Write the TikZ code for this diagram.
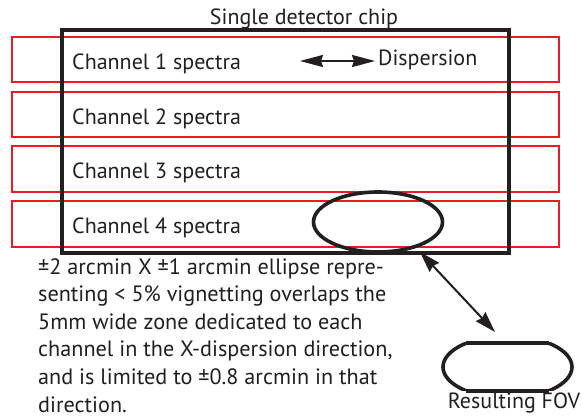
\documentclass[tikz,border=0pt]{standalone}
\usepackage{fontspec}
\setmainfont{PT Sans}
\usetikzlibrary{arrows.meta,shapes.geometric}
\definecolor{chipred}{RGB}{237,28,36}
\definecolor{ink}{RGB}{35,31,32}
\tikzset{
  band/.style={draw=chipred, line width=2.8pt},
  chip/.style={draw=ink, line width=4.2pt},
  lbl/.style={inner sep=0pt, anchor=base west, text=ink, font=\fontsize{22}{26}\selectfont},
  dbl/.style={draw=ink, line width=2pt, {Stealth[length=23pt,width=12pt,inset=2pt]}-{Stealth[length=23pt,width=12pt,inset=2pt]}},
  dbl2/.style={draw=ink, line width=2pt, {Stealth[length=21pt,width=13pt,inset=2pt]}-{Stealth[length=21pt,width=13pt,inset=2pt]}},
  outline/.style={draw=ink, line width=3.6pt},
}
\begin{document}
\begin{tikzpicture}[x=1pt,y=-1pt]
\useasboundingbox[fill=white] (0,0) rectangle (582,419);
\draw[band] (12,37) rectangle (559,82);
\draw[band] (12,92) rectangle (559,137);
\draw[band] (12,146) rectangle (559,192);
\draw[band] (12,201) rectangle (559,247);
\draw[chip] (62,30) rectangle (509,253);
\node[lbl, anchor=base] (title) at (304,25) {Single detector chip};
\node[lbl] (c1) at (72,70) {Channel 1 spectra};
\node[lbl] (c2) at (72,125) {Channel 2 spectra};
\node[lbl] (c3) at (72,179) {Channel 3 spectra};
\node[lbl] (c4) at (72,234) {Channel 4 spectra};
\node[lbl] (disp) at (378,66) {Dispersion};
\coordinate (dl) at (300,61);
\coordinate (dr) at (375,61);
\draw[dbl] (dl) -- (dr);
\node[outline, ellipse, minimum width=129pt, minimum height=60pt, inner sep=0pt] (ell) at (378,222) {};
\begin{scope}
  \clip (440,343) rectangle (576,391);
  \draw[outline] (507.5,367) ellipse [x radius=64.5, y radius=31];
\end{scope}
\draw[outline] (466,343) -- (549,343);
\draw[outline] (466,391) -- (549,391);
\node[lbl, anchor=base] (fov) at (514,409) {Resulting FOV};
\coordinate (a1) at (420,252);
\coordinate (a2) at (495,332);
\draw[dbl2] (a1) -- (a2);
\node[lbl, anchor=north west, align=left, font=\fontsize{22.2}{27.6}\selectfont] (para) at (38,258) {±2 arcmin X ±1 arcmin ellipse repre-\\senting < 5\% vignetting overlaps the\\5mm wide zone dedicated to each\\channel in the X-dispersion direction,\\and is limited to ±0.8 arcmin in that\\direction.};
\end{tikzpicture}
\end{document}
